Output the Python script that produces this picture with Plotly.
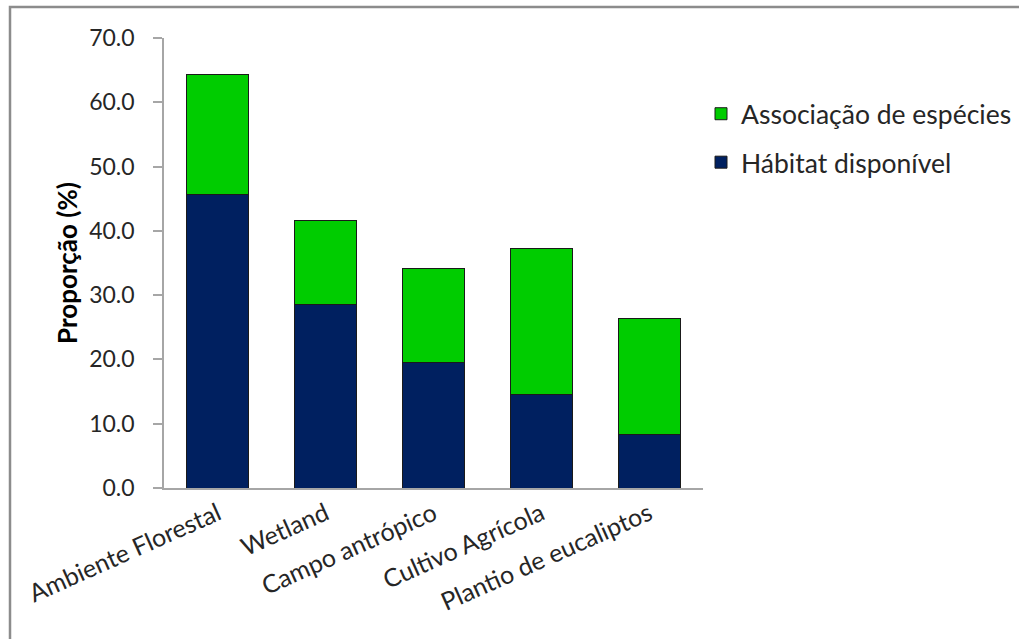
import plotly.graph_objects as go

categories = ["Ambiente Florestal", "Wetland", "Campo antrópico", "Cultivo Agrícola", "Plantio de eucaliptos"]
habitat = [45.6, 28.5, 19.5, 14.5, 8.3]
associacao = [18.7, 13.1, 14.7, 22.7, 18.1]
y_ticks = [0, 10, 20, 30, 40, 50, 60, 70]

FONT = "Lato"
W, H = 1019, 639
L, R, T, B = 164, 316, 38, 151

fig = go.Figure()
fig.add_trace(go.Bar(
    x=categories, y=habitat, name="Hábitat disponível",
    marker=dict(color="#002060", line=dict(color="#1a1a1a", width=1)),
    legendgroup="h", legendrank=2,
))
fig.add_trace(go.Bar(
    x=categories, y=associacao, name="Associação de espécies",
    marker=dict(color="#00CC00", line=dict(color="#1a1a1a", width=1)),
    legendgroup="a", legendrank=1,
))

pw = W - L - R
ph = H - T - B
fx = (10 - L) / pw
fy = (H - B - 7) / ph

fig.update_layout(
    width=W, height=H,
    barmode="stack", bargap=0.425,
    margin=dict(l=L, r=R, t=T, b=B, autoexpand=False),
    paper_bgcolor="white", plot_bgcolor="white",
    font=dict(family=FONT, size=23, color="#262626"),
    showlegend=True,
    legend=dict(
        traceorder="grouped", tracegroupgap=11,
        xref="container", yref="container",
        x=701 / W, y=1 - 90 / H, xanchor="left", yanchor="top",
        font=dict(family=FONT, size=26.5, color="#262626"),
        bgcolor="rgba(0,0,0,0)",
    ),
    xaxis=dict(
        showline=True, linecolor="#a6a6a6", linewidth=1.5,
        ticks="", tickangle=-24, tickfont=dict(family=FONT, size=25, color="#262626"),
        showgrid=False, zeroline=False,
    ),
    yaxis=dict(
        range=[0, 70], tickvals=y_ticks, tickformat=".1f",
        showline=True, linecolor="#a6a6a6", linewidth=1.5,
        ticks="outside", ticklen=9, tickcolor="#a6a6a6", tickwidth=1.5,
        ticklabelstandoff=14,
        tickfont=dict(family=FONT, size=23, color="#262626"),
        showgrid=False, zeroline=False,
        title=dict(text="<b>Proporção (%)</b>", standoff=4,
                   font=dict(family=FONT, size=26, color="#000000")),
    ),
    shapes=[dict(
        type="path", xref="paper", yref="paper",
        path=f"M {fx},-1 L {fx},{fy} L 2,{fy}",
        line=dict(color="#8c8c8c", width=2.5),
    )],
)

fig.write_html("out.html")
